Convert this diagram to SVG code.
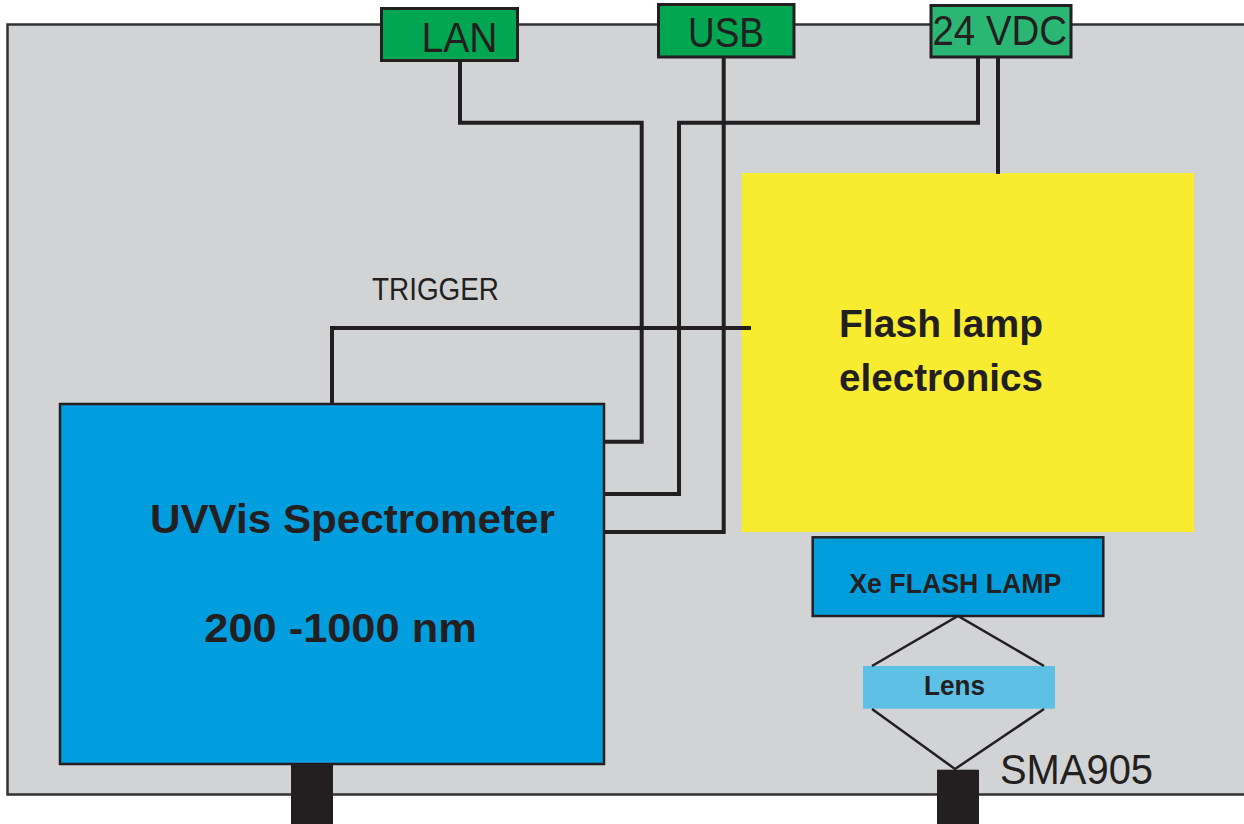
<svg xmlns="http://www.w3.org/2000/svg" width="1244" height="824" viewBox="0 0 1244 824">
<style>
.frame{fill:#d1d3d4;stroke:#333233;stroke-width:2.5}
.port{stroke:#231f20;stroke-width:3}
.blue{fill:#009ddf;stroke:#231f20;stroke-width:2.5}
.conn{fill:#231f20}
.wire{fill:none;stroke:#231f20;stroke-width:4;stroke-linejoin:miter}
.thin{fill:none;stroke:#231f20;stroke-width:2.5}
.t{font-family:"Liberation Sans",Arial,sans-serif;fill:#231f20}
.b{font-weight:bold}
</style>
<rect x="0" y="0" width="1244" height="824" fill="#ffffff"/>
<g id="enclosure">
<rect class="frame" x="7.5" y="24.5" width="1260" height="770"/>
</g>
<g id="lan">
<rect class="port" x="381.5" y="8.5" width="136" height="52" fill="#00a651"/>
<text class="t" x="421.5" y="51.7" font-size="43" textLength="76" lengthAdjust="spacingAndGlyphs">LAN</text>
</g>
<g id="usb">
<rect class="port" x="658.5" y="4.5" width="135.5" height="52.5" fill="#00a651"/>
<text class="t" x="688" y="47.3" font-size="43" textLength="76" lengthAdjust="spacingAndGlyphs">USB</text>
</g>
<g id="vdc">
<rect class="port" x="931" y="5.5" width="140" height="51.5" fill="#2cb673"/>
<text class="t" x="932.5" y="44.5" font-size="43" textLength="134.5" lengthAdjust="spacingAndGlyphs">24 VDC</text>
</g>
<g id="trigger-label">
<text class="t" x="372" y="300" font-size="32" textLength="127" lengthAdjust="spacingAndGlyphs">TRIGGER</text>
</g>
<g id="flash-electronics">
<rect x="741.5" y="173" width="452.5" height="359" fill="#f8ec31"/>
<text class="t b" x="839" y="336.7" font-size="39" textLength="204" lengthAdjust="spacingAndGlyphs">Flash lamp</text>
<text class="t b" x="839" y="390.7" font-size="39" textLength="204" lengthAdjust="spacingAndGlyphs">electronics</text>
</g>
<g id="spectrometer">
<rect class="blue" x="60" y="404" width="544" height="360"/>
<text class="t b" x="150" y="533.3" font-size="41" textLength="405" lengthAdjust="spacingAndGlyphs">UVVis Spectrometer</text>
<text class="t b" x="204.3" y="641.7" font-size="41" textLength="272.4" lengthAdjust="spacingAndGlyphs">200 -1000 nm</text>
</g>
<g id="spectrometer-port">
<rect class="conn" x="291" y="764" width="42" height="60"/>
</g>
<g id="xe-lamp">
<rect class="blue" x="812.7" y="537.3" width="290.6" height="78.7" style="fill:#009ddc"/>
<text class="t b" x="849.3" y="592.7" font-size="27" textLength="212" lengthAdjust="spacingAndGlyphs">Xe FLASH LAMP</text>
</g>
<g id="lens">
<rect x="863" y="666" width="192" height="42.7" fill="#5fc0e6"/>
<text class="t b" x="924" y="695" font-size="27" textLength="61" lengthAdjust="spacingAndGlyphs">Lens</text>
</g>
<g id="sma905">
<rect class="conn" x="937" y="769.7" width="42" height="54.3"/>
<text class="t" x="1000" y="784" font-size="42" textLength="153" lengthAdjust="spacingAndGlyphs">SMA905</text>
</g>
<g id="connectors">
<path class="wire" d="M460,60 V122.7 H641.7 V441.7 H604"/>
<path class="wire" d="M978,57 V122.7 H679 V494 H604"/>
<path class="wire" d="M723.7,57 V532 H604"/>
<path class="wire" d="M998,57 V174"/>
<path class="wire" d="M332,404 V328 H751"/>
<path class="thin" d="M872,666 L958,616 L1044,666"/>
<path class="thin" d="M872,709 L955,769 L1044,709"/>
</g>
</svg>
